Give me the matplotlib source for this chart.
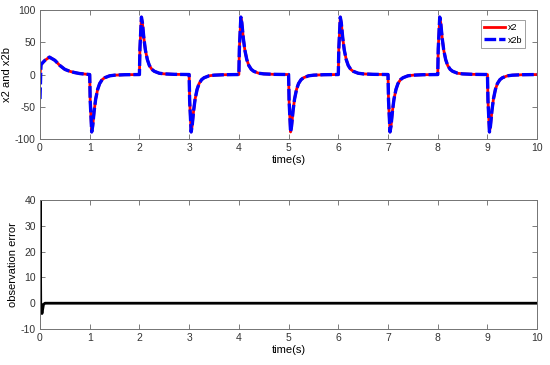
import numpy as np
import matplotlib.pyplot as plt

plt.rcParams['font.family'] = ['Liberation Sans', 'DejaVu Sans']
plt.rcParams['axes.unicode_minus'] = False

# x2 / x2b (one spike per second, sign alternates)
t = [0.0, 0.02, 0.05, 0.1, 0.19, 0.3, 0.4, 0.5, 0.6, 0.7, 0.8, 0.94,
     1.0, 1.01, 1.04, 1.06, 1.09, 1.12, 1.16, 1.2, 1.25, 1.3, 1.4, 1.5, 1.7,
     2.0, 2.01, 2.04, 2.06, 2.09, 2.12, 2.16, 2.2, 2.25, 2.3, 2.4, 2.5, 2.7,
     3.0, 3.01, 3.04, 3.06, 3.09, 3.12, 3.16, 3.2, 3.25, 3.3, 3.4, 3.5, 3.7,
     4.0, 4.01, 4.04, 4.06, 4.09, 4.12, 4.16, 4.2, 4.25, 4.3, 4.4, 4.5, 4.7,
     5.0, 5.01, 5.04, 5.06, 5.09, 5.12, 5.16, 5.2, 5.25, 5.3, 5.4, 5.5, 5.7,
     6.0, 6.01, 6.04, 6.06, 6.09, 6.12, 6.16, 6.2, 6.25, 6.3, 6.4, 6.5, 6.7,
     7.0, 7.01, 7.04, 7.06, 7.09, 7.12, 7.16, 7.2, 7.25, 7.3, 7.4, 7.5, 7.7,
     8.0, 8.01, 8.04, 8.06, 8.09, 8.12, 8.16, 8.2, 8.25, 8.3, 8.4, 8.5, 8.7,
     9.0, 9.01, 9.04, 9.06, 9.09, 9.12, 9.16, 9.2, 9.25, 9.3, 9.4, 9.5, 9.7,
     10.0]
x2 = [0, 15, 18, 22, 27, 22, 14, 8, 5, 3, 1.5, 0.5,
      0, -40, -89, -80, -56, -38, -23, -14, -8, -5, -2, -1, -0.3,
      0, 40, 89, 80, 56, 38, 23, 14, 8, 5, 2, 1, 0.3,
      0, -40, -89, -80, -56, -38, -23, -14, -8, -5, -2, -1, -0.3,
      0, 40, 89, 80, 56, 38, 23, 14, 8, 5, 2, 1, 0.3,
      0, -40, -89, -80, -56, -38, -23, -14, -8, -5, -2, -1, -0.3,
      0, 40, 89, 80, 56, 38, 23, 14, 8, 5, 2, 1, 0.3,
      0, -40, -89, -80, -56, -38, -23, -14, -8, -5, -2, -1, -0.3,
      0, 40, 89, 80, 56, 38, 23, 14, 8, 5, 2, 1, 0.3,
      0, -40, -89, -80, -56, -38, -23, -14, -8, -5, -2, -1, -0.3,
      0]
# observer starts off at -38, then locks on
x2b = [-38] + x2[1:]

# observation error
te = [0.0, 0.003, 0.015, 0.04, 0.07, 0.1, 10.0]
err = [0, 40, 0, -4, -0.5, 0, 0]

fig = plt.figure(figsize=(5.5, 3.65), dpi=100)
ax1 = fig.add_axes([0.0727, 0.619, 0.904, 0.3536])
ax2 = fig.add_axes([0.0727, 0.0986, 0.904, 0.3534])

ax1.plot(t, x2, color='red', lw=2, label='x2')
ax1.plot(t, x2b, color='blue', lw=2.4, ls=(0, (3.5, 0.9)), label='x2b')
ax1.set_xlim(0, 10)
ax1.set_ylim(-100, 100)
ax1.set_yticks([-100, -50, 0, 50, 100])
ax1.set_xlabel('time(s)', fontsize=8, labelpad=1.5)
ax1.set_ylabel('x2 and x2b', fontsize=8, labelpad=2)
leg = ax1.legend(loc='upper right', fontsize=6.5, handlelength=2.3,
                 fancybox=False, edgecolor='0.45', borderpad=0.35,
                 labelspacing=0.35, handletextpad=0.3,
                 bbox_to_anchor=(0.985, 0.955))
leg.get_frame().set_linewidth(0.6)

ax2.plot(te, err, color='black', lw=2)
ax2.set_xlim(0, 10)
ax2.set_ylim(-10, 40)
ax2.set_yticks([-10, 0, 10, 20, 30, 40])
ax2.set_xlabel('time(s)', fontsize=8, labelpad=1.5)
ax2.set_ylabel('observation error', fontsize=8, labelpad=2)

for ax in (ax1, ax2):
    ax.set_xticks(range(0, 11))
    ax.tick_params(direction='in', top=True, right=True, length=3.5,
                   width=0.6, color='0.4', labelsize=7.5, pad=3,
                   labelcolor='0.2')
    for s in ax.spines.values():
        s.set_color('0.45')
        s.set_linewidth(0.7)

fig.savefig('out.png', dpi=100)
